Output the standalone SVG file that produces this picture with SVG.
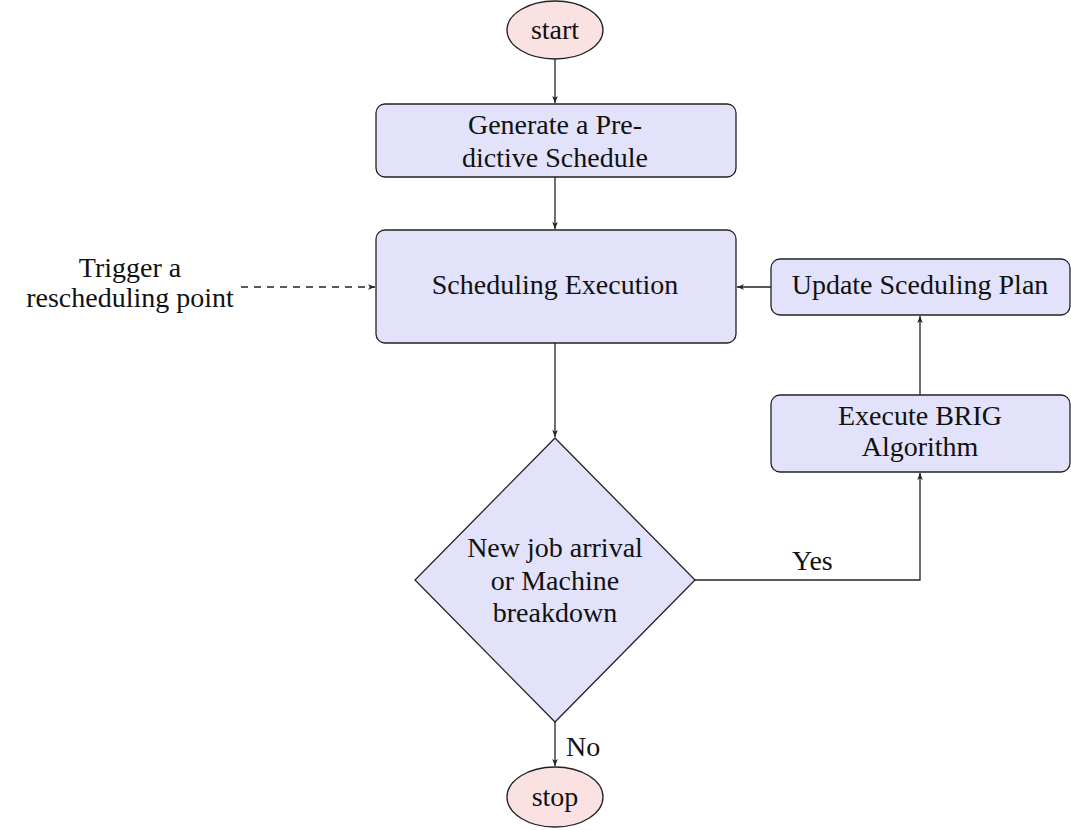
<svg xmlns="http://www.w3.org/2000/svg" width="1071" height="830" viewBox="0 0 1071 830">
<style>
text{font-family:"Liberation Serif","Times New Roman",serif;font-size:28px;fill:#111;text-anchor:middle}
.box{fill:#e2e2fa;stroke:#222;stroke-width:1.3}
.term{fill:#fbe2e2;stroke:#222;stroke-width:1.3}
.edge{fill:none;stroke:#222;stroke-width:1.3;marker-end:url(#arr)}
.dash{stroke-dasharray:7 6}
.lbl{text-anchor:start}
</style>
<defs>
<marker id="arr" viewBox="0 0 10 10" refX="10" refY="5" markerWidth="7" markerHeight="7" markerUnits="userSpaceOnUse" orient="auto">
<path d="M0,1 L10,5 L0,9 L2.5,5 Z" fill="#222"/>
</marker>
</defs>
<rect width="1071" height="830" fill="#fff"/>
<g id="connectors">
<line class="edge" x1="555" y1="59" x2="555" y2="103"/>
<line class="edge" x1="555" y1="177" x2="555" y2="229"/>
<line class="edge dash" x1="241" y1="287" x2="375" y2="287"/>
<line class="edge" x1="771" y1="287" x2="737" y2="287"/>
<line class="edge" x1="555" y1="343" x2="555" y2="437"/>
<polyline class="edge" points="695,580 920,580 920,473"/>
<line class="edge" x1="920" y1="395" x2="920" y2="316"/>
<line class="edge" x1="555" y1="722" x2="555" y2="766"/>
<text class="lbl" x="792" y="570">Yes</text>
<text class="lbl" x="566" y="756">No</text>
</g>
<g id="start">
<ellipse class="term" cx="555" cy="30" rx="48" ry="29"/>
<text x="555" y="39">start</text>
</g>
<g id="generate">
<rect class="box" x="376" y="104" width="360" height="73" rx="9"/>
<text x="555" y="134">Generate a Pre-</text>
<text x="555" y="167">dictive Schedule</text>
</g>
<g id="execution">
<rect class="box" x="376" y="230" width="360" height="113" rx="9"/>
<text x="555" y="294">Scheduling Execution</text>
</g>
<g id="trigger">
<text x="130" y="277">Trigger a</text>
<text x="130" y="307">rescheduling point</text>
</g>
<g id="update">
<rect class="box" x="771" y="259" width="299" height="56" rx="9"/>
<text x="920" y="294">Update Sceduling Plan</text>
</g>
<g id="brig">
<rect class="box" x="771" y="395" width="299" height="77" rx="9"/>
<text x="920" y="425">Execute BRIG</text>
<text x="920" y="456">Algorithm</text>
</g>
<g id="decision">
<polygon class="box" points="555,438 695,580 555,722 415,580"/>
<text x="555" y="557">New job arrival</text>
<text x="555" y="590">or Machine</text>
<text x="555" y="622">breakdown</text>
</g>
<g id="stop">
<ellipse class="term" cx="555" cy="797" rx="48" ry="30"/>
<text x="555" y="806">stop</text>
</g>
</svg>
